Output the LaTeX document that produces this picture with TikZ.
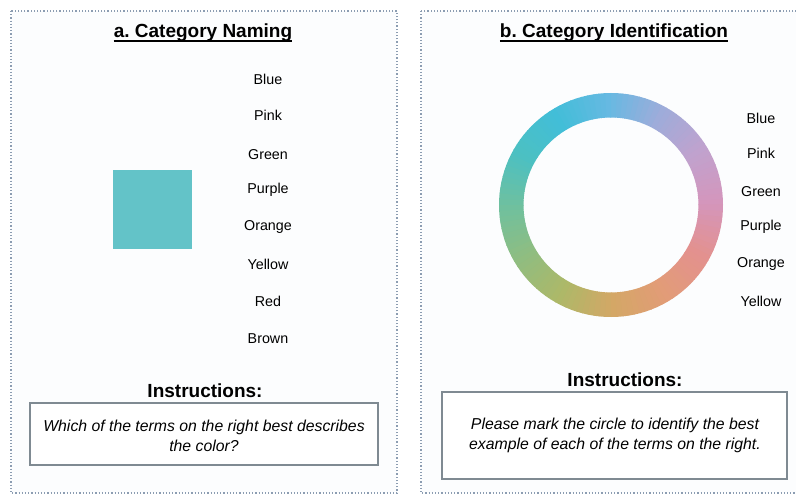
\documentclass[tikz,border=0pt]{standalone}
\usepackage{fontspec}
\setmainfont{Liberation Sans}
\frenchspacing
\newcommand{\myul}[1]{\tikz[baseline=(t.base)]{\node[inner sep=0pt](t){#1};\draw[line width=1.3pt] ([yshift=-3pt]t.base west) -- ([yshift=-3pt]t.base east);}}
\begin{document}
\begin{tikzpicture}[x=1pt,y=-1pt,
  panel/.style={draw=panelcol, line width=1.2pt, dotted, fill=panelbg},
  instrbox/.style={draw=boxcol, line width=1.3pt, fill=white},
  word/.style={font=\fontsize{14.3}{16}\selectfont, anchor=center, inner sep=0pt},
  ptitle/.style={font=\bfseries\fontsize{19}{22}\selectfont, anchor=base, inner sep=0pt},
  ihead/.style={font=\bfseries\fontsize{19}{22}\selectfont, anchor=center, inner sep=0pt},
  itext/.style={font=\itshape\fontsize{15.8}{20}\selectfont, align=center, anchor=center, inner sep=0pt}]
\definecolor{panelcol}{HTML}{8C9DB2}
\definecolor{panelbg}{HTML}{FCFDFE}
\definecolor{boxcol}{HTML}{7F8A92}
\definecolor{swatch}{HTML}{63C3C8}
\definecolor{ring0}{HTML}{D496BC}
\definecolor{ring1}{HTML}{C0A2CE}
\definecolor{ring2}{HTML}{9EACDA}
\definecolor{ring3}{HTML}{66B9E2}
\definecolor{ring4}{HTML}{42BED8}
\definecolor{ring5}{HTML}{4CC0C2}
\definecolor{ring6}{HTML}{70C09E}
\definecolor{ring7}{HTML}{90BD80}
\definecolor{ring8}{HTML}{AEB868}
\definecolor{ring9}{HTML}{D4A766}
\definecolor{ring10}{HTML}{E29C78}
\definecolor{ring11}{HTML}{E3918F}
\useasboundingbox (0,0) rectangle (796,495);
\fill[white] (0,0) rectangle (796,495);
% panels
\draw[panel] (11,11) rectangle (397,493);
\draw[panel] (421,11) rectangle (810,493);
% titles
\node[ptitle] (ta) at (203,38) {\myul{a. Category Naming}};
\node[ptitle] (tb) at (614,38) {\myul{b. Category Identification}};
% swatch
\fill[swatch] (113,170) rectangle (192,249);
% words a
\foreach \w/\yy [count=\k] in {Blue/79,Pink/115,Green/155,Purple/190,Orange/227,Yellow/264,Red/301,Brown/339}
  \node[word] (wa\k) at (268,\yy) {\w};
% words b
\foreach \w/\yy [count=\k] in {Blue/118,Pink/153,Green/192,Purple/227,Orange/264,Yellow/301}
  \node[word] (wb\k) at (761,\yy) {\w};
% ring
\begin{scope}[shift={(611,205)}, y=1pt]
\foreach \i in {0,...,11}{
  \pgfmathtruncatemacro\nx{mod(\i+1,12)}
  \foreach \j in {0,...,9}{
    \pgfmathsetmacro\aa{\i*30+\j*3}
    \pgfmathsetmacro\ab{\aa+3.4}
    \pgfmathtruncatemacro\pc{100-\j*10}
    \fill[ring\i!\pc!ring\nx] (\aa:112) arc[start angle=\aa, end angle=\ab, radius=112] -- (\ab:87.5) arc[start angle=\ab, end angle=\aa, radius=87.5] -- cycle;
  }
}
\end{scope}
% instructions a
\node[ihead] (ia) at (205,391) {Instructions:};
\draw[instrbox] (30,403) rectangle (378,465);
\node[itext] (xa) at (204,436) {Which of the terms on the right best describes\\the color?};
% instructions b
\node[ihead] (ib) at (625,380) {Instructions:};
\draw[instrbox] (442,392) rectangle (787,479);
\node[itext] (xb) at (615,435) {Please mark the circle to identify the best\\example of each of the terms on the right.};
\end{tikzpicture}
\end{document}
